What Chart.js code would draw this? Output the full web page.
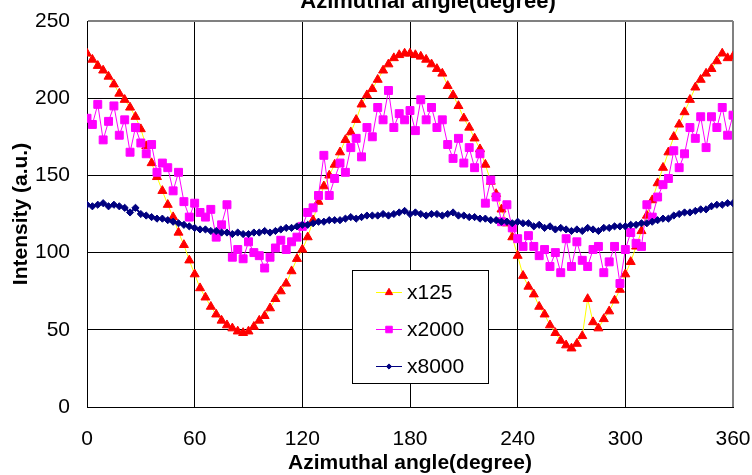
<!DOCTYPE html>
<html>
<head>
<meta charset="utf-8">
<script src="https://cdn.jsdelivr.net/npm/chart.js@4.4.0/dist/chart.umd.min.js"></script>
<style>
  html, body { margin: 0; padding: 0; background: #fff; }
  #wrap { width: 752px; height: 475px; }
</style>
</head>
<body>
<div id="wrap"><canvas id="chart" width="752" height="475"></canvas></div>
<script>
// azimuthal angle of each sample (degree)
const angles = [
  0,3,6,9,12,15,18,21,24,27,30,33,36,39,42,45,48,51,54,57,
  60,63,66,69,72,75,78,81,84,87,90,93,96,99,102,105,108,111,114,117,
  120,123,126,129,132,135,138,141,144,147,150,153,156,159,162,165,168,171,174,177,
  180,183,186,189,192,195,198,201,204,207,210,213,216,219,222,225,228,231,234,237,
  240,243,246,249,252,255,258,261,264,267,270,273,276,279,282,285,288,291,294,297,
  300,303,306,309,312,315,318,321,324,327,330,333,336,339,342,345,348,351,354,357,360
];

const x125 = [
  229,225,221,218,214,209,203,199,194,188,
  180,169,158,149,140,131,123,113,105,95,
  86,77,71,65,60,56,53,51,49,48,
  49,52,56,59,64,70,75,80,88,96,
  102,110,121,133,143,150,157,165,173,178,
  186,196,202,206,212,218,222,226,228,229,
  229,228,227,225,222,219,216,208,202,195,
  187,181,174,167,157,146,138,128,119,110,
  98,85,78,73,65,60,53,48,43,40,
  38,41,46,70,55,51,57,62,69,76,
  86,94,104,114,124,134,145,155,165,175,
  183,191,199,207,212,216,219,224,229,226,227
];

const x2000 = [
  187,183,196,173,185,195,176,186,165,181,
  171,164,170,152,158,155,140,152,133,123,
  132,126,123,128,110,118,131,97,102,96,
  107,100,98,90,97,103,108,102,107,110,
  117,126,129,137,163,137,148,158,152,168,
  174,162,181,175,194,186,205,181,190,186,
  192,179,199,186,194,181,186,170,161,174,
  158,168,155,164,132,147,136,120,131,116,
  109,104,111,104,98,102,91,100,87,109,
  91,107,95,91,102,104,87,94,104,80,
  102,113,106,104,131,123,136,144,148,166,
  155,164,181,174,188,168,188,181,194,176,189
];

const x8000 = [
  131,130,131,132,130,131,130,129,126,129,
  125,124,123,122,122,121,120,119,118,117,
  116,115,115,114,114,113,113,112,113,112,
  112,113,113,114,113,114,115,116,116,117,
  118,118,119,120,120,121,121,121,122,123,
  122,123,124,124,124,125,124,125,126,127,
  125,126,125,124,125,125,124,125,126,124,
  124,123,123,122,122,121,121,120,120,119,
  120,119,119,117,118,116,117,115,116,115,
  114,115,114,116,115,114,116,116,117,117,
  117,118,118,119,119,120,121,122,122,124,
  125,126,126,127,128,128,130,131,131,132,132
];

const seriesNames = ['x125', 'x2000', 'x8000'];
const xTicks = [0, 60, 120, 180, 240, 300, 360];
const yTicks = [0, 50, 100, 150, 200, 250];

const FONT = '"Liberation Sans", Arial, sans-serif';

function toPoints(values) {
  return values.map((v, i) => ({ x: angles[i], y: v }));
}

const styles = [
  { line: '#FFFF00', mark: '#FF0000', pointStyle: 'triangle', radius: 5.2, lineWidth: 1 },
  { line: '#FF00FF', mark: '#FF00FF', pointStyle: 'rect', radius: 5.6, lineWidth: 1 },
  { line: '#000080', mark: '#000080', pointStyle: 'rectRot', radius: 3.6, lineWidth: 2 }
];
const allValues = [x125, x2000, x8000];

const datasets = seriesNames.map((name, i) => ({
  label: name,
  data: toPoints(allValues[i]),
  borderColor: styles[i].line,
  borderWidth: styles[i].lineWidth,
  pointStyle: styles[i].pointStyle,
  pointRadius: styles[i].radius,
  pointBackgroundColor: styles[i].mark,
  pointBorderColor: styles[i].mark,
  pointBorderWidth: 1,
  tension: 0,
  order: 3 - i
}));

// title at the top (half cut off) and the boxed legend inside the plot
const overlay = {
  id: 'overlay',
  afterDraw(chart) {
    const ctx = chart.ctx;
    ctx.save();
    ctx.fillStyle = '#000';
    ctx.font = 'bold 22px ' + FONT;
    ctx.textAlign = 'center';
    ctx.textBaseline = 'alphabetic';
    ctx.fillText('Azimuthal angle(degree)', 428, 8);

    ctx.fillStyle = '#fff';
    ctx.fillRect(352.5, 270.5, 136, 113);
    ctx.strokeStyle = '#000';
    ctx.lineWidth = 1;
    ctx.strokeRect(352.5, 270.5, 136, 113);

    const rows = [292, 329, 366];
    seriesNames.forEach((name, i) => {
      const y = rows[i];
      ctx.strokeStyle = styles[i].line;
      ctx.lineWidth = 1;
      ctx.beginPath();
      ctx.moveTo(376, y + 0.5);
      ctx.lineTo(402, y + 0.5);
      ctx.stroke();
      ctx.fillStyle = styles[i].mark;
      ctx.strokeStyle = styles[i].mark;
      Chart.helpers.drawPoint(ctx, {
        pointStyle: styles[i].pointStyle,
        radius: styles[i].radius - 1,
        rotation: 0,
        borderWidth: 1
      }, 389, y + 0.5);
      ctx.fillStyle = '#000';
      ctx.font = '21px ' + FONT;
      ctx.textAlign = 'left';
      ctx.textBaseline = 'middle';
      ctx.fillText(name, 407, y + 1);
    });
    ctx.restore();
  }
};

new Chart(document.getElementById('chart'), {
  type: 'line',
  data: { datasets: datasets },
  options: {
    responsive: false,
    animation: false,
    devicePixelRatio: 1,
    layout: { padding: { top: 21, right: 19, left: 0, bottom: 0 } },
    plugins: {
      legend: { display: false },
      title: { display: false },
      tooltip: { enabled: false }
    },
    scales: {
      x: {
        type: 'linear',
        min: 0,
        max: 360,
        afterBuildTicks: (scale) => { scale.ticks = xTicks.map(v => ({ value: v })); },
        afterFit: (scale) => {
          scale.height = 68;
          scale.paddingLeft = 0;
          scale.paddingRight = 0;
        },
        ticks: {
          color: '#000',
          padding: 20,
          maxRotation: 0,
          font: { family: FONT, size: 21 }
        },
        grid: {
          drawTicks: false,
          color: (c) => (c.tick && c.tick.value === 360) ? '#808080' : '#000',
          lineWidth: (c) => (c.tick && c.tick.value === 360) ? 2 : 1
        },
        border: { color: '#000', width: 1 },
        title: {
          display: true,
          text: 'Azimuthal angle(degree)',
          color: '#000',
          padding: { top: 0, bottom: 0 },
          font: { family: FONT, size: 21, weight: 'bold', lineHeight: 1.1 }
        }
      },
      y: {
        min: 0,
        max: 250,
        afterBuildTicks: (scale) => { scale.ticks = yTicks.map(v => ({ value: v })); },
        afterFit: (scale) => {
          scale.width = 87;
          scale.paddingTop = 0;
          scale.paddingBottom = 0;
        },
        ticks: {
          color: '#000',
          padding: 17,
          font: { family: FONT, size: 21 }
        },
        grid: {
          drawTicks: false,
          color: (c) => (c.tick && c.tick.value === 250) ? '#808080' : '#000',
          lineWidth: (c) => (c.tick && c.tick.value === 250) ? 2 : 1
        },
        border: { color: '#000', width: 1 },
        title: {
          display: true,
          text: 'Intensity (a.u.)',
          color: '#000',
          padding: { top: 9, bottom: 0 },
          font: { family: FONT, size: 21, weight: 'bold', lineHeight: 1.2 }
        }
      }
    }
  },
  plugins: [overlay]
});
</script>
</body>
</html>
